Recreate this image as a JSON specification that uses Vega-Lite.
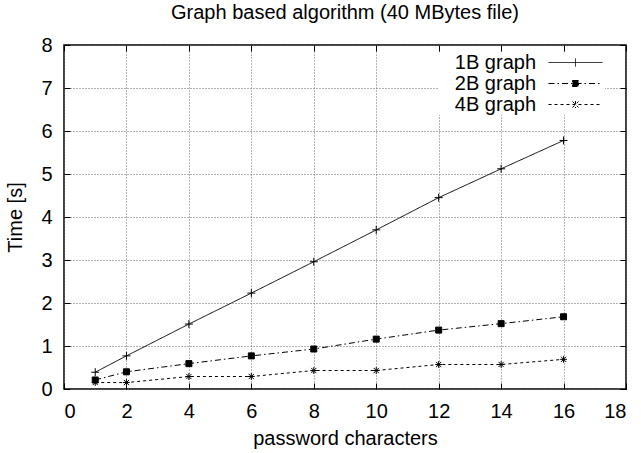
{
  "$schema": "https://vega.github.io/schema/vega-lite/v6.json",
  "autosize": {"type": "none"},
  "width": 562,
  "height": 344,
  "padding": {"left": 64, "top": 45, "right": 15, "bottom": 64},
  "background": "white",
  "title": {
    "text": "Graph based algorithm (40 MBytes file)",
    "font": "Liberation Sans",
    "fontSize": 20,
    "fontWeight": "normal",
    "color": "black",
    "anchor": "middle",
    "offset": 12
  },
  "config": {
    "view": {"stroke": "black", "strokeWidth": 1.5},
    "font": "Liberation Sans",
    "axis": {
      "labelFont": "Liberation Sans",
      "labelFontSize": 20,
      "labelColor": "black",
      "titleFont": "Liberation Sans",
      "titleFontSize": 20,
      "titleFontWeight": "normal",
      "titleColor": "black",
      "domain": false,
      "tickColor": "black",
      "tickSize": -6,
      "tickWidth": 1,
      "gridColor": "#666666",
      "gridDash": [1, 2],
      "gridWidth": 1,
      "gridOpacity": 1
    }
  },
  "data": {
    "values": [
      {"chars": 1, "series": "1B graph", "time": 0.39},
      {"chars": 2, "series": "1B graph", "time": 0.77},
      {"chars": 4, "series": "1B graph", "time": 1.51},
      {"chars": 6, "series": "1B graph", "time": 2.23},
      {"chars": 8, "series": "1B graph", "time": 2.96},
      {"chars": 10, "series": "1B graph", "time": 3.7},
      {"chars": 12, "series": "1B graph", "time": 4.45},
      {"chars": 14, "series": "1B graph", "time": 5.12},
      {"chars": 16, "series": "1B graph", "time": 5.78},
      {"chars": 1, "series": "2B graph", "time": 0.21},
      {"chars": 2, "series": "2B graph", "time": 0.4},
      {"chars": 4, "series": "2B graph", "time": 0.59},
      {"chars": 6, "series": "2B graph", "time": 0.77},
      {"chars": 8, "series": "2B graph", "time": 0.93},
      {"chars": 10, "series": "2B graph", "time": 1.16},
      {"chars": 12, "series": "2B graph", "time": 1.37},
      {"chars": 14, "series": "2B graph", "time": 1.52},
      {"chars": 16, "series": "2B graph", "time": 1.68},
      {"chars": 1, "series": "4B graph", "time": 0.15},
      {"chars": 2, "series": "4B graph", "time": 0.15},
      {"chars": 4, "series": "4B graph", "time": 0.29},
      {"chars": 6, "series": "4B graph", "time": 0.29},
      {"chars": 8, "series": "4B graph", "time": 0.43},
      {"chars": 10, "series": "4B graph", "time": 0.43},
      {"chars": 12, "series": "4B graph", "time": 0.57},
      {"chars": 14, "series": "4B graph", "time": 0.57},
      {"chars": 16, "series": "4B graph", "time": 0.69}
    ]
  },
  "layer": [
    {
      "mark": {"type": "line", "stroke": "black", "strokeWidth": 1},
      "encoding": {
        "x": {
          "field": "chars", "type": "quantitative",
          "scale": {"domain": [0, 18], "nice": false, "zero": false},
          "axis": {"orient": "bottom", "values": [0, 2, 4, 6, 8, 10, 12, 14, 16, 18], "title": "password characters", "labelPadding": 18, "titlePadding": 7}
        },
        "y": {
          "field": "time", "type": "quantitative",
          "scale": {"domain": [0, 8], "nice": false},
          "axis": {"orient": "left", "values": [0, 1, 2, 3, 4, 5, 6, 7, 8], "title": "Time [s]", "labelPadding": 18, "titlePadding": 15}
        },
        "strokeDash": {
          "field": "series", "type": "nominal",
          "scale": {"domain": ["1B graph", "2B graph", "4B graph"], "range": [[1, 0], [6, 3, 1.5, 3], [3, 3]]},
          "legend": {
            "orient": "none",
            "legendX": 374,
            "legendY": 7,
            "title": null,
            "padding": 0,
            "rowPadding": 0,
            "labelFont": "Liberation Sans",
            "labelFontSize": 20,
            "labelColor": "black",
            "labelAlign": "right",
            "labelOffset": -50,
            "symbolOffset": 127,
            "symbolSize": 400,
            "symbolStrokeWidth": 1,
            "symbolStrokeColor": "black",
            "symbolFillColor": "black",
            "fillColor": "white",
            "encode": {
              "symbols": {
                "update": {
                  "shape": {"signal": "datum.value === '1B graph' ? 'M-2.7,0H2.7M0,-0.4V0.4' : datum.value === '2B graph' ? 'M-2.7,0H2.7M-0.3,-0.3H0.3V0.3H-0.3Z' : 'M-2.7,0H2.7M0,-0.35V0.35M-0.3,-0.3L0.3,0.3M-0.3,0.3L0.3,-0.3'"},
                  "fill": {"value": "black"},
                  "stroke": {"value": "black"}
                }
              }
            }
          }
        },
        "detail": {"field": "series"}
      }
    },
    {
      "transform": [{"filter": "datum.series === '1B graph'"}],
      "mark": {"type": "point", "shape": "M-1,0H1M0,-1V1", "filled": true, "fill": "black", "stroke": "black", "strokeWidth": 1, "opacity": 1, "size": 64},
      "encoding": {
        "x": {"field": "chars", "type": "quantitative", "axis": {"orient": "top", "values": [0, 2, 4, 6, 8, 10, 12, 14, 16, 18], "labels": false, "grid": false, "title": null}},
        "y": {"field": "time", "type": "quantitative", "axis": {"orient": "right", "values": [0, 1, 2, 3, 4, 5, 6, 7, 8], "labels": false, "grid": false, "title": null}}
      }
    },
    {
      "transform": [{"filter": "datum.series === '2B graph'"}],
      "mark": {"type": "point", "shape": "M-0.75,-0.75H0.75V0.75H-0.75Z", "filled": true, "fill": "black", "stroke": "black", "strokeWidth": 1, "opacity": 1, "size": 64},
      "encoding": {
        "x": {"field": "chars", "type": "quantitative", "axis": null},
        "y": {"field": "time", "type": "quantitative", "axis": null}
      }
    },
    {
      "transform": [{"filter": "datum.series === '4B graph'"}],
      "mark": {"type": "point", "shape": "M-0.85,0H0.85M0,-0.85V0.85M-0.65,-0.65L0.65,0.65M-0.65,0.65L0.65,-0.65", "filled": true, "fill": "black", "stroke": "black", "strokeWidth": 1, "opacity": 1, "size": 64},
      "encoding": {
        "x": {"field": "chars", "type": "quantitative", "axis": null},
        "y": {"field": "time", "type": "quantitative", "axis": null}
      }
    }
  ]
}
